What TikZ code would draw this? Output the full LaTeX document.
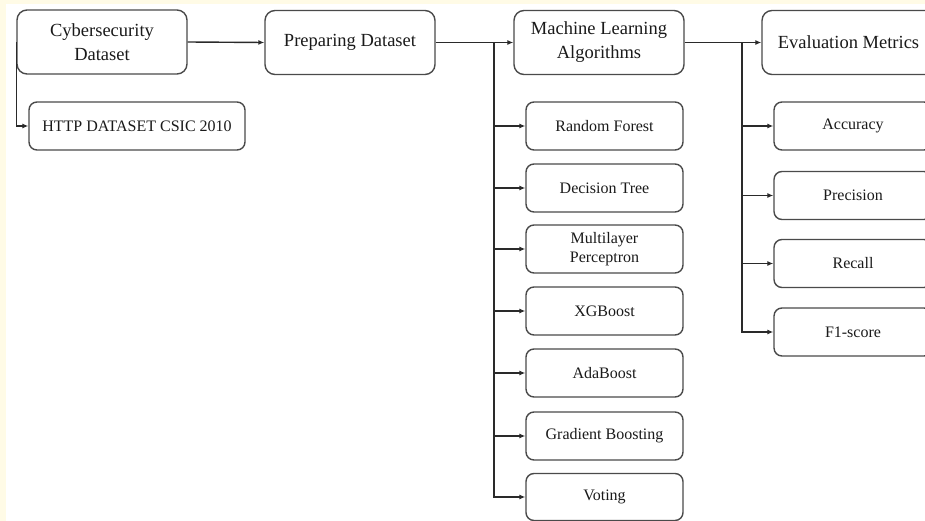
\documentclass[tikz,border=0pt]{standalone}
\usepackage{fontspec}
\setmainfont{Liberation Serif}
\usetikzlibrary{arrows.meta}
\definecolor{cream}{HTML}{FFFBE6}
\definecolor{edge}{HTML}{4A4A4A}
\definecolor{wire}{HTML}{2A2A2A}
\definecolor{ink}{HTML}{1A1A1A}
\tikzset{
  mainbox/.style={draw=edge, line width=1.4pt, rounded corners=10pt, fill=white,
    minimum width=170pt, minimum height=64pt, align=center, text=ink,
    font=\fontsize{18.5}{24}\selectfont, inner sep=0pt},
  subbox/.style={draw=edge, line width=1.4pt, rounded corners=8pt, fill=white,
    minimum width=157pt, minimum height=48pt, align=center, text=ink,
    font=\fontsize{16}{19.5}\selectfont, inner sep=0pt},
  link/.style={draw=wire, line width=1.4pt, -{Latex[length=6pt,width=5pt]}}
}
\begin{document}
\begin{tikzpicture}[x=1pt,y=-1pt]
\useasboundingbox (0,0) rectangle (925,521);
\clip (0,0) rectangle (925,521);
\fill[cream] (0,0) rectangle (925,521);
\fill[white] (6,4) rectangle (925,521);

% top row
\node[mainbox] (cyber) at (102,42) {Cybersecurity\\Dataset};
\node[mainbox] (prep) at (350,42.5) {Preparing Dataset};
\node[mainbox] (ml) at (599,42.5) {Machine Learning\\Algorithms};
\node[mainbox, minimum width=173pt] (eval) at (848.5,42.5) {Evaluation Metrics};

% dataset
\node[subbox, minimum width=216pt] (http) at (137,126) {HTTP DATASET CSIC 2010};

% algorithms
\node[subbox] (rf) at (604.5,126) {Random Forest};
\node[subbox] (dt) at (604.5,188) {Decision Tree};
\node[subbox] (mlp) at (604.5,249) {Multilayer\\Perceptron};
\node[subbox] (xgb) at (604.5,311) {XGBoost};
\node[subbox] (ada) at (604.5,373) {AdaBoost};
\node[subbox] (gb) at (604.5,436) {Gradient Boosting};
\node[subbox, minimum height=47pt] (vot) at (604.5,497) {Voting};

% metrics
\node[subbox, minimum width=158pt] (acc) at (853,126) {Accuracy};
\node[subbox, minimum width=158pt] (pre) at (853,195.5) {Precision};
\node[subbox, minimum width=158pt] (rec) at (853,263.5) {Recall};
\node[subbox, minimum width=158pt] (f1) at (853,332) {F1-score};

% connectors
\draw[link] (cyber.east) -- (prep.west);
\draw[link] (prep.east) -- (ml.west);
\draw[link] (ml.east) -- (eval.west);
\draw[link] (cyber.west) |- (http.west);

\coordinate (mlsplit) at (494,42.5);
\foreach \n in {rf,dt,mlp,xgb,ada,gb,vot}
  \draw[link] (mlsplit) |- (\n.west);

\coordinate (evsplit) at (742,42.5);
\foreach \n in {acc,pre,rec,f1}
  \draw[link] (evsplit) |- (\n.west);
\end{tikzpicture}
\end{document}
